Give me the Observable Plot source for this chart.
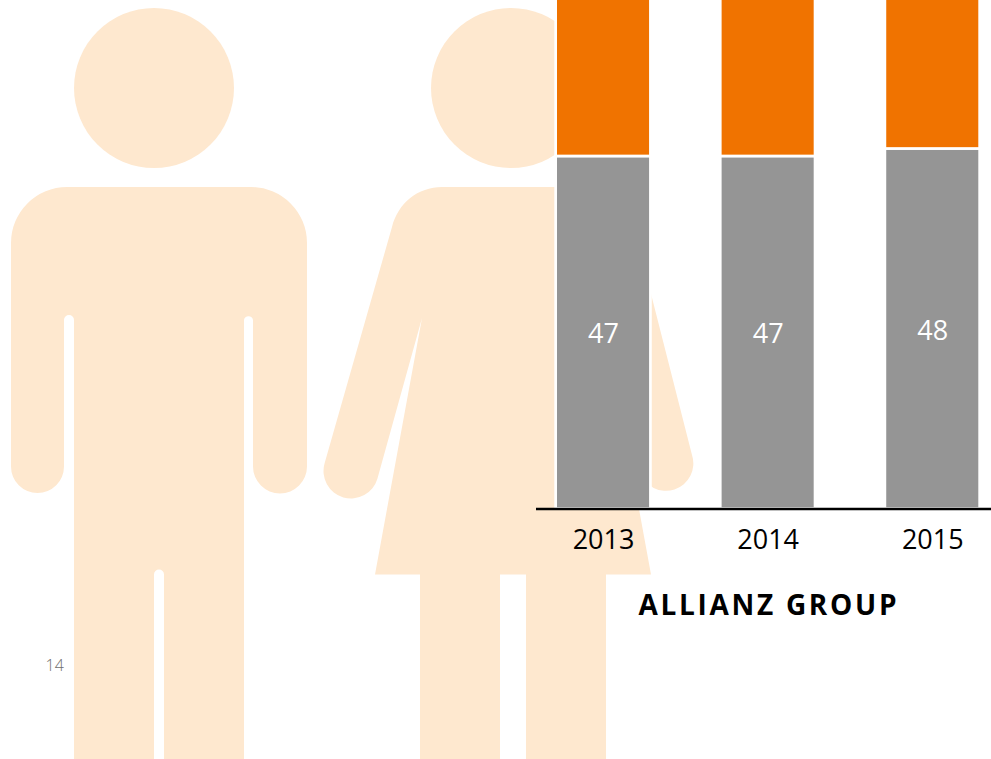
<!DOCTYPE html>
<html>
<head>
<meta charset="utf-8">
<script src="https://cdn.jsdelivr.net/npm/d3@7"></script>
<script src="https://cdn.jsdelivr.net/npm/@observablehq/plot@0.6"></script>
<style>
html,body{margin:0;padding:0;background:#fff;overflow:hidden}
svg{display:block}
</style>
</head>
<body>
<div id="chart"></div>
<script>
const years = ["2013", "2014", "2015"];
const greyShare = [47, 47, 48];
const orangeShare = [53, 53, 52];
const seriesNames = ["Men", "Women"];
const seriesColors = ["#959595", "#f07300"];
const groupTitle = "ALLIANZ GROUP";
const pageNumber = "14";

const table = [
  ...years.map((year, i) => ({year, series: seriesNames[0], value: greyShare[i]})),
  ...years.map((year, i) => ({year, series: seriesNames[1], value: orangeShare[i]}))
];
const greyRows = table.filter(d => d.series === seriesNames[0]);

const FONT = "'Open Sans', sans-serif";
const PEACH = "#fee8cf";

// Decorative pictograms behind the chart
const figures = [
  "M11,243 A56,56 0 0 1 67,187 H251 A56,56 0 0 1 307,243 V466.5 A27,27 0 0 1 253,466.5 V320 A4.6,4.6 0 0 0 244,320 V760 H164 V574.5 A5,5 0 0 0 154,574.5 V760 H74 V320 A5,5 0 0 0 64,320 V466.5 A26.5,26.5 0 0 1 11,466.5 Z",
  "M392,227 C398,203 418,187 442,187 H580 L634,227 L692,455 A27,27 0 0 1 640,472 L604,318 L651,574.5 H606 V760 H526 V574.5 H500 V760 H420 V574.5 H375 L422,318 L377.4,478.7 A27.5,27.5 0 0 1 324.6,463.3 Z"
];
const pictograms = () => {
  const g = d3.create("svg:g").attr("fill", PEACH);
  g.selectAll("path").data(figures).join("path").attr("d", d => d);
  g.selectAll("circle").data([154, 511]).join("circle")
    .attr("cx", d => d).attr("cy", 88).attr("r", 80);
  return g.node();
};

const plot = Plot.plot({
  width: 991,
  height: 759,
  marginLeft: 536,
  marginRight: 0,
  marginTop: 0,
  marginBottom: 250.5,
  style: {background: "transparent", fontFamily: FONT},
  x: {type: "band", domain: years, range: [555.65, 979.65], round: false, paddingInner: 0.4243, paddingOuter: 0, label: null},
  y: {domain: [0, 100], range: [508.5, -241.5], axis: null},
  color: {domain: seriesNames, range: seriesColors},
  marks: [
    pictograms,
    Plot.barY(table, {x: "year", y: "value", fill: "series", stroke: "white", strokeWidth: 2.7, order: seriesNames}),
    Plot.ruleY([0], {stroke: "#000", strokeWidth: 2.7}),
    Plot.text(greyRows, {x: "year", y: d => d.value / 2, text: d => String(d.value), fill: "#fff", fontSize: 27, dy: 2}),
    Plot.axisX({anchor: "bottom", tickSize: 0, tickPadding: 21, fontSize: 27, fill: "#000", label: null}),
    Plot.text([groupTitle], {frameAnchor: "top-left", dx: 102, dy: 595, fontSize: 28, fontWeight: 700, fill: "#000", className: "group-title"}),
    Plot.text([pageNumber], {frameAnchor: "top-left", dx: -491, dy: 659, fontSize: 16, fontWeight: 300, fill: "#6f6f6f"})
  ]
});
d3.select(plot).selectAll(".group-title text").style("letter-spacing", "2.7px");
document.getElementById("chart").appendChild(plot);
</script>
</body>
</html>
